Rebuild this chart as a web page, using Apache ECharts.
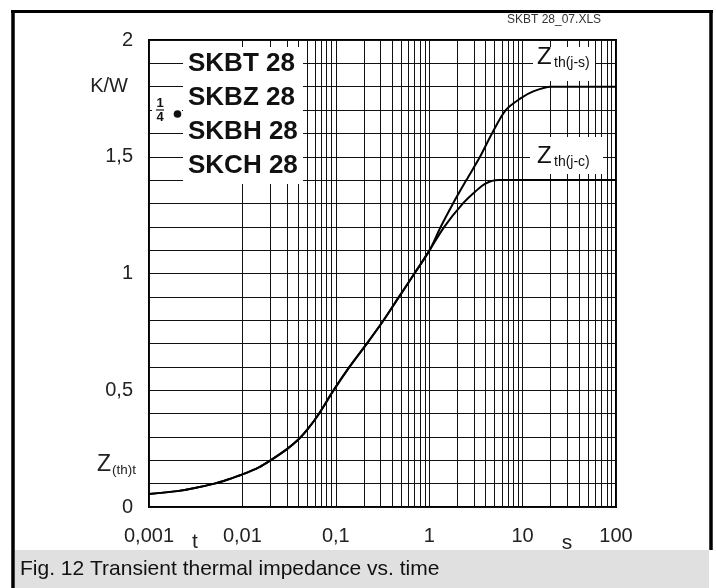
<!DOCTYPE html>
<html>
<head>
<meta charset="utf-8">
<script src="https://cdn.jsdelivr.net/npm/echarts@6/dist/echarts.min.js"></script>
<style>html,body{margin:0;padding:0;background:#fff}#c{width:716px;height:588px}</style>
</head>
<body>
<div id="c"></div>
<script>
// ---- data ----
const tCommon = [0.001, 0.002, 0.003, 0.005, 0.007, 0.01, 0.015, 0.02, 0.03, 0.04, 0.05, 0.065, 0.093, 0.14, 0.215, 0.325, 0.475, 0.695, 1.01];
const zCommon = [0.056, 0.068, 0.08, 0.1, 0.118, 0.14, 0.17, 0.2, 0.248, 0.29, 0.333, 0.395, 0.495, 0.6, 0.7, 0.8, 0.9, 1.0, 1.1];
const tJC = [1.45, 2.3, 3.1, 4.0, 5.5, 100];
const zJC = [1.2, 1.3, 1.35, 1.385, 1.4, 1.4];
const tJS = [1.33, 1.8, 2.5, 3.5, 4.7, 6.6, 9.5, 13, 20, 100];
const zJS = [1.2, 1.3, 1.4, 1.5, 1.6, 1.7, 1.75, 1.78, 1.8, 1.8];
const xTickLabels = ['0,001', '0,01', '0,1', '1', '10', '100'];
const yTickLabels = { '0': '0', '0.5': '0,5', '1': '1', '1.5': '1,5', '2': '2' };
const minorGridTimes = [
  0.002, 0.003, 0.004, 0.005, 0.006, 0.007, 0.008, 0.009,
  0.02, 0.03, 0.04, 0.05, 0.06, 0.07, 0.08, 0.09,
  0.2, 0.3, 0.4, 0.5, 0.6, 0.7, 0.8, 0.9,
  2, 3, 4, 5, 6, 7, 8, 9,
  20, 30, 40, 50, 60, 70, 80, 90
];
const seriesNames = ['Zth(j-c)', 'Zth(j-s)'];
const products = ['SKBT 28', 'SKBZ 28', 'SKBH 28', 'SKCH 28'];

const zip = (a, b) => a.map((v, i) => [v, b[i]]);
const jcData = zip(tCommon, zCommon).concat(zip(tJC, zJC));
const jsData = zip(tCommon, zCommon).concat(zip(tJS, zJS));

const FONT = 'Liberation Sans, Arial, sans-serif';
const chart = echarts.init(document.getElementById('c'), null, { renderer: 'canvas' });

const txt = (x, y, text, size, opts) => Object.assign({
  type: 'text', z: 10, x: x, y: y,
  style: Object.assign({ text: text, fontFamily: FONT, fontSize: size, fill: '#111', verticalAlign: 'middle', align: 'left' }, opts || {})
});
const whiteRect = (x, y, w, h) => ({ type: 'rect', z: 1, shape: { x: x, y: y, width: w, height: h }, style: { fill: '#fff' } });

const graphics = [
  // outer frame
  { type: 'line', z: 10, shape: { x1: 11, y1: 11.5, x2: 713, y2: 11.5 }, style: { stroke: '#000', lineWidth: 3 } },
  { type: 'line', z: 10, shape: { x1: 13, y1: 10, x2: 13, y2: 588 }, style: { stroke: '#000', lineWidth: 3.5 } },
  { type: 'line', z: 10, shape: { x1: 711, y1: 10, x2: 711, y2: 550 }, style: { stroke: '#000', lineWidth: 3.5 } },
  // caption band
  { type: 'rect', z: 9, shape: { x: 15, y: 550, width: 694, height: 38 }, style: { fill: '#e0e0e0' } },
  txt(20, 569, 'Fig. 12 Transient thermal impedance vs. time', 21, { fill: '#111' }),
  txt(507, 20, 'SKBT 28_07.XLS', 12, { fill: '#333' }),
  // white patches over the grid
  whiteRect(183, 47, 120, 137),
  whiteRect(152, 95, 30, 32),
  whiteRect(533, 47, 62, 34),
  whiteRect(530, 137, 73, 37),
  // product box text
  txt(188, 64, products[0], 26, { fontWeight: 'bold' }),
  txt(188, 98, products[1], 26, { fontWeight: 'bold' }),
  txt(188, 132, products[2], 26, { fontWeight: 'bold' }),
  txt(188, 166, products[3], 26, { fontWeight: 'bold' }),
  txt(160, 103, '1', 13, { fontWeight: 'bold', align: 'center' }),
  { type: 'line', z: 10, shape: { x1: 156, y1: 110, x2: 164, y2: 110 }, style: { stroke: '#111', lineWidth: 1.2 } },
  txt(160, 117, '4', 13, { fontWeight: 'bold', align: 'center' }),
  { type: 'circle', z: 10, shape: { cx: 177.5, cy: 114, r: 3.8 }, style: { fill: '#111' } },
  // curve labels
  txt(537, 57, 'Z', 24),
  txt(554, 63, 'th(j-s)', 14),
  txt(537, 156, 'Z', 24),
  txt(554, 162, 'th(j-c)', 14),
  // axis name labels
  txt(128, 86, 'K/W', 20, { align: 'right', fill: '#222' }),
  txt(97, 465, 'Z', 23, { fill: '#222' }),
  txt(112, 470, '(th)t', 13.5, { fill: '#222' }),
  txt(195, 542, 't', 21, { align: 'center', fill: '#222' }),
  txt(567, 543, 's', 21, { align: 'center', fill: '#222' })
];

chart.setOption({
  animation: false,
  backgroundColor: '#fff',
  grid: { left: 149, right: 100, top: 40, bottom: 81, show: true, borderColor: '#000', borderWidth: 2, backgroundColor: 'transparent', z: 0 },
  xAxis: {
    type: 'log', logBase: 10, min: 0.001, max: 100,
    axisLine: { show: false },
    axisTick: { show: false },
    splitLine: { show: true, lineStyle: { color: '#111', width: 1 } },
    axisLabel: {
      margin: 19, fontSize: 20, fontFamily: FONT, color: '#222',
      formatter: v => xTickLabels[Math.round(Math.log10(v)) + 3]
    }
  },
  yAxis: {
    type: 'value', min: 0, max: 2, interval: 0.1,
    axisLine: { show: false },
    axisTick: { show: false },
    splitLine: { show: true, lineStyle: { color: '#111', width: 1 } },
    axisLabel: {
      margin: 16, fontSize: 20, fontFamily: FONT, color: '#222',
      formatter: v => {
        const k = String(Math.round(v * 10) / 10);
        return yTickLabels[k] !== undefined ? yTickLabels[k] : '';
      }
    }
  },
  graphic: graphics,
  series: [
    {
      type: 'line', name: 'grid', data: [], z: 0, silent: true,
      markLine: {
        z: 0, silent: true, symbol: 'none', animation: false,
        label: { show: false },
        lineStyle: { color: '#111', width: 1, type: 'solid' },
        emphasis: { disabled: true },
        data: minorGridTimes.map(v => ({ xAxis: v }))
      }
    },
    {
      type: 'line', name: seriesNames[0], data: jcData, z: 5, showSymbol: false,
      smooth: 0.3,
      lineStyle: { color: '#000', width: 2 }
    },
    {
      type: 'line', name: seriesNames[1], data: jsData, z: 5, showSymbol: false,
      smooth: 0.3,
      lineStyle: { color: '#000', width: 2 }
    }
  ]
});
</script>
</body>
</html>
